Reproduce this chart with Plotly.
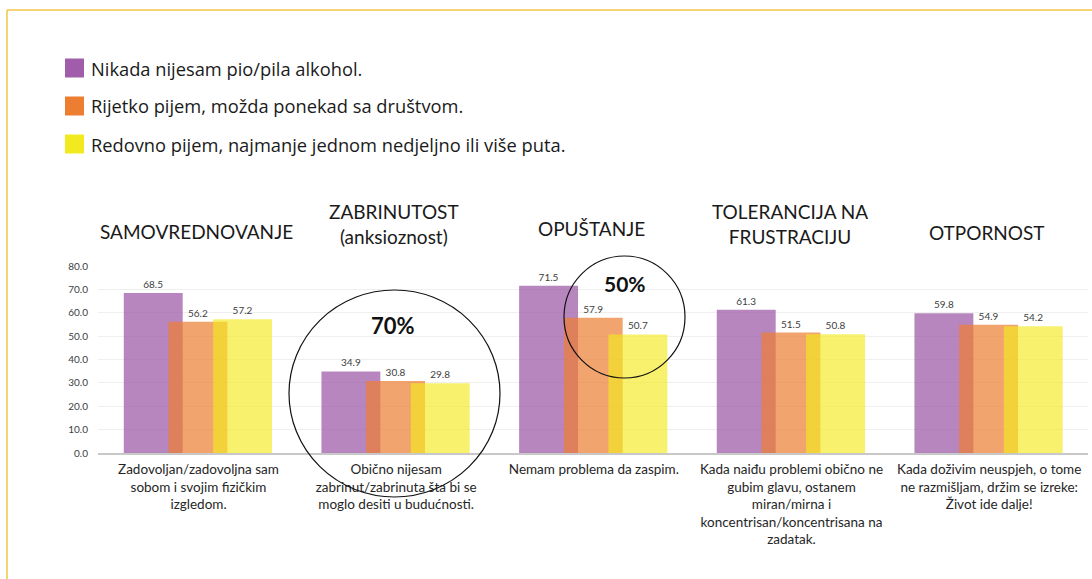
import plotly.graph_objects as go

# ---- data ----
headers = ["SAMOVREDNOVANJE", "ZABRINUTOST<br>(anksioznost)", "OPUŠTANJE",
           "TOLERANCIJA NA<br>FRUSTRACIJU", "OTPORNOST"]
descriptions = [
    "Zadovoljan/zadovoljna sam<br>sobom i svojim fizičkim<br>izgledom.",
    "Obično nijesam<br>zabrinut/zabrinuta šta bi se<br>moglo desiti u budućnosti.",
    "Nemam problema da zaspim.",
    "Kada naiđu problemi obično ne<br>gubim glavu, ostanem<br>miran/mirna i<br>koncentrisan/koncentrisana na<br>zadatak.",
    "Kada doživim neuspjeh, o tome<br>ne razmišljam, držim se izreke:<br>Život ide dalje!",
]
series_names = ["Nikada nijesam pio/pila alkohol.",
                "Rijetko pijem, možda ponekad sa društvom.",
                "Redovno pijem, najmanje jednom nedjeljno ili više puta."]
nikada = [68.5, 34.9, 71.5, 61.3, 59.8]
rijetko = [56.2, 30.8, 57.9, 51.5, 54.9]
redovno = [57.2, 29.8, 50.7, 50.8, 54.2]
y_ticks = [0, 10, 20, 30, 40, 50, 60, 70, 80]

# ---- styles ----
W, H = 1092, 579
PL, PR, PT, PB = 98, 1088, 266, 453  # plot area in pixels
FONT = "Lato"
legend_colors = ["#A05EAA", "#ED7D31", "#F2EA1E"]
bar_colors = ["rgba(160,94,170,0.75)", "rgba(237,125,49,0.70)", "rgba(242,234,30,0.65)"]
offsets = [-0.378, -0.152, 0.074]
bar_w = 0.298


def px(x):
    return (x - PL) / (PR - PL)


def py(y):
    return (PB - y) / (PB - PT)


fig = go.Figure()
for vals, col, off, name in zip([nikada, rijetko, redovno], bar_colors, offsets, series_names):
    fig.add_trace(go.Bar(
        x=descriptions, y=vals, name=name,
        marker=dict(color=col, line=dict(width=0)),
        offset=off, width=bar_w,
        text=vals, texttemplate="%{y:.1f}", textposition="outside",
        textfont=dict(family=FONT, size=10, color="#404040"),
        cliponaxis=False, showlegend=False,
    ))

shapes = []
annotations = []

# frame lines (top and left)
frame_col = "#F2C744"
shapes.append(dict(type="line", xref="paper", yref="paper",
                   x0=px(7), x1=px(1092), y0=py(10), y1=py(10),
                   line=dict(color=frame_col, width=1.5)))
shapes.append(dict(type="line", xref="paper", yref="paper",
                   x0=px(7), x1=px(7), y0=py(10), y1=py(579),
                   line=dict(color=frame_col, width=1.5)))

# legend (manual)
leg_y = [68, 106, 144]
for c, name, yy in zip(legend_colors, series_names, leg_y):
    shapes.append(dict(type="rect", xref="paper", yref="paper",
                       x0=px(65), x1=px(84), y0=py(yy - 9.5), y1=py(yy + 9.5),
                       fillcolor=c, line=dict(width=0)))
    annotations.append(dict(xref="paper", yref="paper", x=px(89), y=py(yy),
                            xanchor="left", yanchor="middle", showarrow=False,
                            text=name, font=dict(family="Open Sans", size=18.3, color="#1a1a1a")))

# category headers
header_y = [231, 223.5, 228, 223.5, 232]
for d, h, yy in zip(descriptions, headers, header_y):
    annotations.append(dict(xref="x", yref="paper", x=d, y=py(yy), xshift=-2,
                            xanchor="center", yanchor="middle", showarrow=False,
                            text=h, font=dict(family=FONT, size=19, color="#1a1a1a")))

# circles with percentages
shapes.append(dict(type="circle", xref="paper", yref="paper",
                   x0=px(289), x1=px(500), y0=py(497), y1=py(290),
                   line=dict(color="#111111", width=1.2), fillcolor="rgba(0,0,0,0)"))
shapes.append(dict(type="circle", xref="paper", yref="paper",
                   x0=px(564), x1=px(685), y0=py(378), y1=py(256),
                   line=dict(color="#111111", width=1.2), fillcolor="rgba(0,0,0,0)"))
annotations.append(dict(xref="paper", yref="paper", x=px(393), y=py(325),
                        xanchor="center", yanchor="middle", showarrow=False,
                        text="<b>70%</b>", font=dict(family=FONT, size=22, color="#111111")))
annotations.append(dict(xref="paper", yref="paper", x=px(625), y=py(283),
                        xanchor="center", yanchor="middle", showarrow=False,
                        text="<b>50%</b>", font=dict(family=FONT, size=21, color="#111111")))

fig.update_layout(
    width=W, height=H,
    margin=dict(l=PL, r=W - PR, t=PT, b=H - PB, pad=0),
    paper_bgcolor="white", plot_bgcolor="white",
    barmode="overlay",
    shapes=shapes, annotations=annotations,
    font=dict(family=FONT),
)
fig.update_xaxes(type="category", showgrid=False, showline=True, linecolor="#C8C8C8",
                 linewidth=1.5, ticks="", tickfont=dict(family=FONT, size=13.5, color="#262626"),
                 tickangle=0, ticklabelstandoff=3)
fig.update_yaxes(range=[0, 80], tickvals=y_ticks, tickformat=".1f", showgrid=True,
                 gridcolor="#EFEFEF", gridwidth=1, zeroline=False, showline=False,
                 tickfont=dict(family=FONT, size=10, color="#404040"), ticklabelstandoff=9)

fig.write_html("out.html", config={"displayModeBar": False},
               post_script="document.body.style.margin='0';")
